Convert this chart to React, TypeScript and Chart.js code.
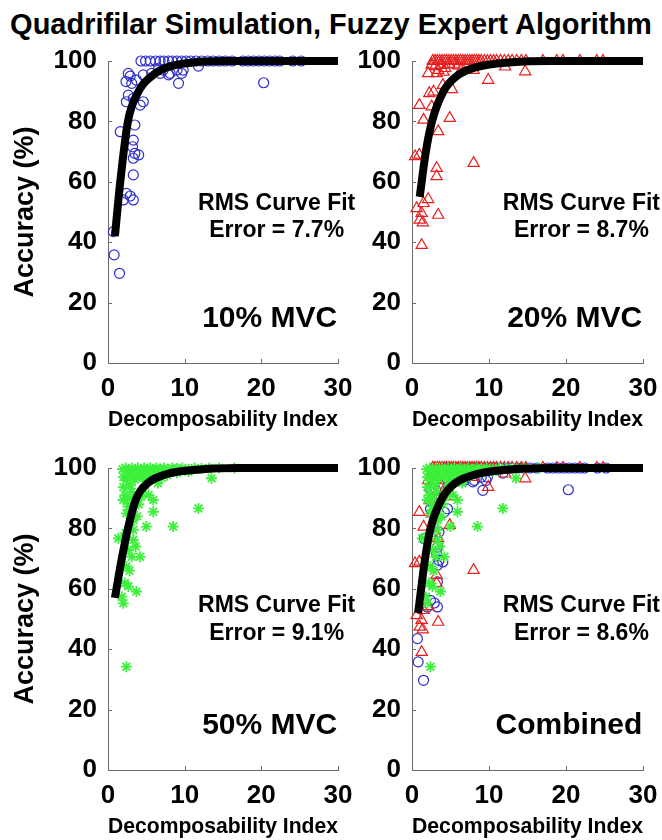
import React, { useEffect, useRef } from "react";
import { Chart, registerables } from "chart.js";

Chart.register(...registerables);

const FONT = "'Liberation Sans', Arial, Helvetica, sans-serif";
const AXIS_COLOR = "#6b6b6b";
const BLUE = "rgb(45,45,205)";
const RED = "rgb(232,30,30)";
const GREEN = "rgb(60,240,60)";

// Axis ticks
const xTickValues = [0, 10, 20, 30];
const yTickValues = [0, 20, 40, 60, 80, 100];

// 10% MVC: [decomposability index, accuracy %]
const mvc10Points: [number, number][] = [
  [4.3, 100], [4.9, 100], [5.5, 100], [6.2, 100], [6.8, 100], [7.3, 100], [7.9, 100], [8.4, 100],
  [9.0, 100], [9.6, 100], [10.2, 100], [10.8, 100], [11.5, 100], [12.2, 100], [13.0, 100], [13.7, 100],
  [14.5, 100], [15.3, 100], [16.2, 100], [17.6, 100], [18.3, 100], [19.0, 100], [19.7, 100], [20.4, 100],
  [21.1, 100], [21.8, 100], [22.4, 100], [24.1, 100], [25.2, 100],
  [6.6, 97.6], [7.9, 95.4], [9.0, 97.0], [9.2, 92.6], [9.6, 95.9], [9.8, 97.0], [11.8, 98.3], [20.3, 92.8],
  [2.65, 95.9], [2.9, 95.0], [2.35, 93.2], [3.1, 92.6], [2.65, 88.7], [3.3, 87.6], [2.4, 86.5], [4.6, 86.5],
  [4.2, 85.4], [1.6, 76.6], [3.5, 78.8], [3.3, 73.8], [3.2, 71.6], [3.5, 69.4], [4.0, 68.9], [3.3, 67.8],
  [3.3, 62.3], [2.4, 56.2], [2.9, 55.3], [2.0, 54.0], [3.3, 54.0], [0.7, 43.5], [0.8, 35.8], [1.5, 29.7],
  [4.6, 95.4], [5.7, 95.9], [6.8, 95.9], [3.7, 93.7], [8.1, 95.9], [7.2, 97.0],
];

// 20% MVC
const mvc20Points: [number, number][] = [
  [2.7, 100], [3.0, 100], [3.3, 100], [3.6, 100], [3.9, 100], [4.2, 100], [4.5, 100], [4.8, 100],
  [5.1, 100], [5.4, 100], [5.7, 100], [6.0, 100], [6.3, 100], [6.6, 100], [6.9, 100], [7.2, 100],
  [7.5, 100], [7.8, 100], [8.1, 100], [8.4, 100], [8.7, 100], [9.0, 100], [9.4, 100], [9.8, 100],
  [10.2, 100], [10.6, 100], [11.0, 100], [11.5, 100], [12.0, 100], [12.5, 100], [13.0, 100], [13.6, 100],
  [14.2, 100], [14.8, 100], [17.0, 100], [18.8, 100], [19.6, 100], [21.8, 100], [24.0, 100], [24.8, 100],
  [3.0, 98.2], [3.4, 97.0], [3.8, 98.6], [4.3, 97.6], [4.8, 98.8], [5.5, 99.0], [6.0, 98.5], [6.5, 97.5],
  [7.2, 98.8], [2.55, 98.7], [2.1, 95.9], [3.2, 95.9], [2.25, 89.3], [2.8, 89.8], [0.95, 85.4], [2.55, 84.9],
  [1.5, 80.5], [4.9, 81.1], [3.4, 76.7], [0.4, 68.4], [0.95, 68.9], [8.0, 66.2], [3.2, 64.5], [3.2, 61.8],
  [2.1, 54.2], [1.5, 52.9], [0.6, 51.2], [3.4, 49.0], [1.25, 49.6], [1.0, 47.4], [1.4, 46.5], [1.26, 39.0],
  [5.2, 90.6], [4.1, 96.4], [4.0, 92.0], [9.9, 93.7], [8.0, 97.0], [12.1, 98.1], [14.7, 96.5],
];

// 50% MVC
const mvc50Points: [number, number][] = [
  [1.9, 99.6], [2.3, 100], [2.7, 99.3], [3.1, 100], [3.5, 99.5], [3.9, 100], [4.3, 99.2], [4.7, 100],
  [5.1, 99.6], [5.5, 100], [5.9, 99.4], [6.3, 100], [6.8, 99.7], [7.3, 100], [7.8, 99.5], [8.4, 100],
  [9.0, 99.8], [9.7, 100], [10.5, 99.6], [11.3, 100], [12.2, 99.8], [13.2, 100], [14.5, 100], [16.5, 100],
  [2.4, 96.0], [2.0, 93.7], [3.1, 92.1], [2.0, 89.4], [5.9, 89.4], [5.9, 85.5], [2.4, 85.0], [11.8, 86.6],
  [3.3, 82.8], [5.0, 80.6], [8.5, 80.6], [3.3, 79.5], [1.35, 76.7], [3.3, 76.2], [2.65, 72.8], [4.2, 70.6],
  [3.1, 70.6], [2.4, 67.4], [2.2, 61.9], [2.65, 60.8], [3.7, 59.1], [1.8, 57.4], [2.0, 55.2], [2.4, 34.2],
  [13.5, 96.6], [4.6, 93.2], [7.7, 97.6], [4.0, 88.0], [5.3, 91.0], [6.5, 95.0], [3.8, 84.0], [2.8, 90.0],
  [4.5, 97.0], [5.5, 96.5], [6.0, 98.0], [7.0, 96.8], [9.0, 98.4], [10.5, 98.8],
  [2.0, 97.0], [2.6, 98.4], [3.0, 97.4], [3.5, 96.2], [4.0, 98.0], [4.8, 95.6], [5.2, 98.1], [5.8, 97.1],
  [6.8, 98.5], [7.5, 98.2], [8.2, 99.0], [2.2, 91.0], [2.6, 87.2], [3.0, 82.2], [2.3, 78.4], [3.6, 74.0],
  [2.8, 66.0], [3.4, 88.2], [2.9, 94.2], [4.3, 90.5],
];

// Fitted curves (index, accuracy)
const fit10X = [0.9, 1.6, 2.6, 4.0, 5.7, 7.8, 11, 15, 30];
const fit10Y = [42, 60, 80, 90, 95, 98, 99.5, 100, 100];
const fit20X = [1.0, 1.8, 2.6, 4.1, 5.8, 8.4, 13, 18, 30];
const fit20Y = [55, 70, 80, 90, 95, 98, 99.6, 100, 100];
const fit50X = [0.9, 1.8, 2.6, 3.7, 5.2, 7.7, 12, 17, 30];
const fit50Y = [57, 70, 80, 90, 95, 98, 99.5, 100, 100];
const fitAllX = [0.8, 1.7, 2.4, 3.9, 5.6, 8.4, 12.7, 18, 30];
const fitAllY = [52, 70, 80, 90, 95, 98, 99.5, 100, 100];

type SeriesKey = "mvc10" | "mvc20" | "mvc50";

const seriesStyle: Record<SeriesKey, any> = {
  mvc10: { points: mvc10Points, pointStyle: "circle", pointRadius: 5, borderColor: BLUE, borderWidth: 1.2 },
  mvc20: { points: mvc20Points, pointStyle: "triangle", pointRadius: 6.5, borderColor: RED, borderWidth: 1.2 },
  mvc50: { points: mvc50Points, pointStyle: "star", pointRadius: 5.5, borderColor: GREEN, borderWidth: 1.8 },
};

interface PanelDef {
  key: string;
  cx: number; cy: number; cw: number; ch: number;
  plot: [number, number, number, number];
  series: SeriesKey[];
  fitX: number[]; fitY: number[];
  error: string; label: string;
  yTitle: boolean;
  noteY: [number, number];
}

const panels: PanelDef[] = [
  { key: "a", cx: 0, cy: 40, cw: 360, ch: 400, plot: [108, 61, 338, 363], series: ["mvc10"],
    fitX: fit10X, fitY: fit10Y, error: "Error = 7.7%", label: "10% MVC", yTitle: true, noteY: [52.8, 43.8] },
  { key: "b", cx: 330, cy: 40, cw: 332, ch: 400, plot: [412, 61, 643, 363], series: ["mvc20"],
    fitX: fit20X, fitY: fit20Y, error: "Error = 8.7%", label: "20% MVC", yTitle: false, noteY: [52.8, 43.8] },
  { key: "c", cx: 0, cy: 440, cw: 360, ch: 400, plot: [108, 468, 338, 770], series: ["mvc50"],
    fitX: fit50X, fitY: fit50Y, error: "Error = 9.1%", label: "50% MVC", yTitle: true, noteY: [54.4, 45.2] },
  { key: "d", cx: 330, cy: 440, cw: 332, ch: 400, plot: [412, 468, 643, 770], series: ["mvc50", "mvc20", "mvc10"],
    fitX: fitAllX, fitY: fitAllY, error: "Error = 8.6%", label: "Combined", yTitle: false, noteY: [54.4, 45.2] },
];

const X_AXIS_HEIGHT = 70;

// Tick-label overhang is covered by the layout padding, so scales claim none.
function clearScalePadding(s: any) {
  s.paddingTop = 0;
  s.paddingBottom = 0;
  s.paddingLeft = 0;
  s.paddingRight = 0;
}

function Panel({ def }: { def: PanelDef }) {
  const ref = useRef<HTMLCanvasElement | null>(null);

  useEffect(() => {
    if (!ref.current) return;
    const [px0, py0, px1, py1] = def.plot;

    const inwardTicks = {
      id: "inwardTicks",
      beforeDatasetsDraw(chart: any) {
        const { ctx, chartArea: a, scales } = chart;
        ctx.save();
        ctx.strokeStyle = AXIS_COLOR;
        ctx.lineWidth = 1;
        ctx.beginPath();
        for (const v of xTickValues) {
          if (v === 0) continue;
          const px = Math.round(scales.x.getPixelForValue(v)) + 0.5;
          ctx.moveTo(px, a.bottom);
          ctx.lineTo(px, a.bottom - 4);
        }
        for (const v of yTickValues) {
          if (v === 0) continue;
          const py = Math.round(scales.y.getPixelForValue(v)) + 0.5;
          ctx.moveTo(a.left, py);
          ctx.lineTo(a.left + 4, py);
        }
        ctx.stroke();
        ctx.restore();
      },
    };

    const notes = [
      { text: "RMS Curve Fit", x: 22.0, y: def.noteY[0], size: 23, align: "center" },
      { text: def.error, x: 22.0, y: def.noteY[1], size: 23, align: "center" },
      { text: def.label, x: 29.9, y: 14.7, size: 30, align: "right" },
    ];

    const panelNotes = {
      id: "panelNotes",
      afterDatasetsDraw(chart: any) {
        const { ctx, scales } = chart;
        ctx.save();
        ctx.fillStyle = "#000";
        ctx.textBaseline = "middle";
        for (const n of notes) {
          ctx.font = `bold ${n.size}px ${FONT}`;
          ctx.textAlign = n.align;
          ctx.fillText(n.text, scales.x.getPixelForValue(n.x), scales.y.getPixelForValue(n.y));
        }
        ctx.restore();
      },
    };

    const datasets: any[] = [
      {
        label: "fit",
        data: def.fitX.map((x, i) => ({ x, y: def.fitY[i] })),
        showLine: true,
        borderColor: "#000",
        backgroundColor: "#000",
        borderWidth: 8,
        borderCapStyle: "butt",
        pointRadius: 0,
        cubicInterpolationMode: "monotone",
        clip: false,
      },
      ...def.series.map((k) => {
        const s = seriesStyle[k];
        return {
          label: k,
          data: s.points.map(([x, y]: [number, number]) => ({ x, y })),
          showLine: false,
          pointStyle: s.pointStyle,
          pointRadius: s.pointRadius,
          borderColor: s.borderColor,
          borderWidth: s.borderWidth,
          backgroundColor: "rgba(0,0,0,0)",
          clip: false,
        };
      }),
    ];

    const tickFont = { family: FONT, size: 26, weight: "bold" as const };

    const chart = new Chart(ref.current, {
      type: "scatter",
      data: { datasets },
      plugins: [inwardTicks, panelNotes],
      options: {
        animation: false,
        responsive: false,
        events: [],
        layout: {
          padding: {
            left: 0,
            top: py0 - def.cy,
            right: def.cx + def.cw - px1,
            bottom: def.cy + def.ch - py1 - X_AXIS_HEIGHT,
          },
        },
        plugins: { legend: { display: false }, tooltip: { enabled: false } },
        scales: {
          x: {
            type: "linear",
            min: 0,
            max: 30,
            afterBuildTicks: (s: any) => { s.ticks = xTickValues.map((value) => ({ value })); },
            afterFit: (s: any) => { s.height = X_AXIS_HEIGHT; clearScalePadding(s); },
            ticks: { font: tickFont, color: "#000", padding: 10, maxRotation: 0, autoSkip: false },
            grid: { display: false, drawTicks: false },
            border: { display: true, color: AXIS_COLOR, width: 1 },
            title: {
              display: true,
              text: "Decomposability Index",
              color: "#000",
              font: { family: FONT, size: 22, weight: "bold" },
              padding: { top: 0, bottom: 0 },
            },
          },
          y: {
            type: "linear",
            min: 0,
            max: 100,
            afterBuildTicks: (s: any) => { s.ticks = yTickValues.map((value) => ({ value })); },
            afterFit: (s: any) => { s.width = px0 - def.cx; clearScalePadding(s); },
            ticks: { font: tickFont, color: "#000", padding: 11, autoSkip: false },
            grid: { display: false, drawTicks: false },
            border: { display: true, color: AXIS_COLOR, width: 1 },
            title: {
              display: def.yTitle,
              text: "Accuracy (%)",
              color: "#000",
              font: { family: FONT, size: 27, weight: "bold" },
              padding: { top: 9, bottom: 0 },
            },
          },
        },
      } as any,
    });
    return () => chart.destroy();
  }, [def]);

  return (
    <canvas
      ref={ref}
      width={def.cw}
      height={def.ch}
      style={{ position: "absolute", left: def.cx, top: def.cy, width: def.cw, height: def.ch }}
    />
  );
}

export default function App() {
  return (
    <div
      style={{
        position: "absolute",
        left: 0,
        top: 0,
        width: 662,
        height: 840,
        background: "#fff",
        overflow: "hidden",
      }}
    >
      <div
        style={{
          position: "absolute",
          left: 0,
          top: 0,
          width: 662,
          height: 48,
          lineHeight: "48px",
          textAlign: "center",
          fontFamily: FONT,
          fontWeight: "bold",
          fontSize: 29,
          color: "#000",
          whiteSpace: "nowrap",
        }}
      >
        Quadrifilar Simulation, Fuzzy Expert Algorithm
      </div>
      {panels.map((p) => (
        <Panel key={p.key} def={p} />
      ))}
    </div>
  );
}
